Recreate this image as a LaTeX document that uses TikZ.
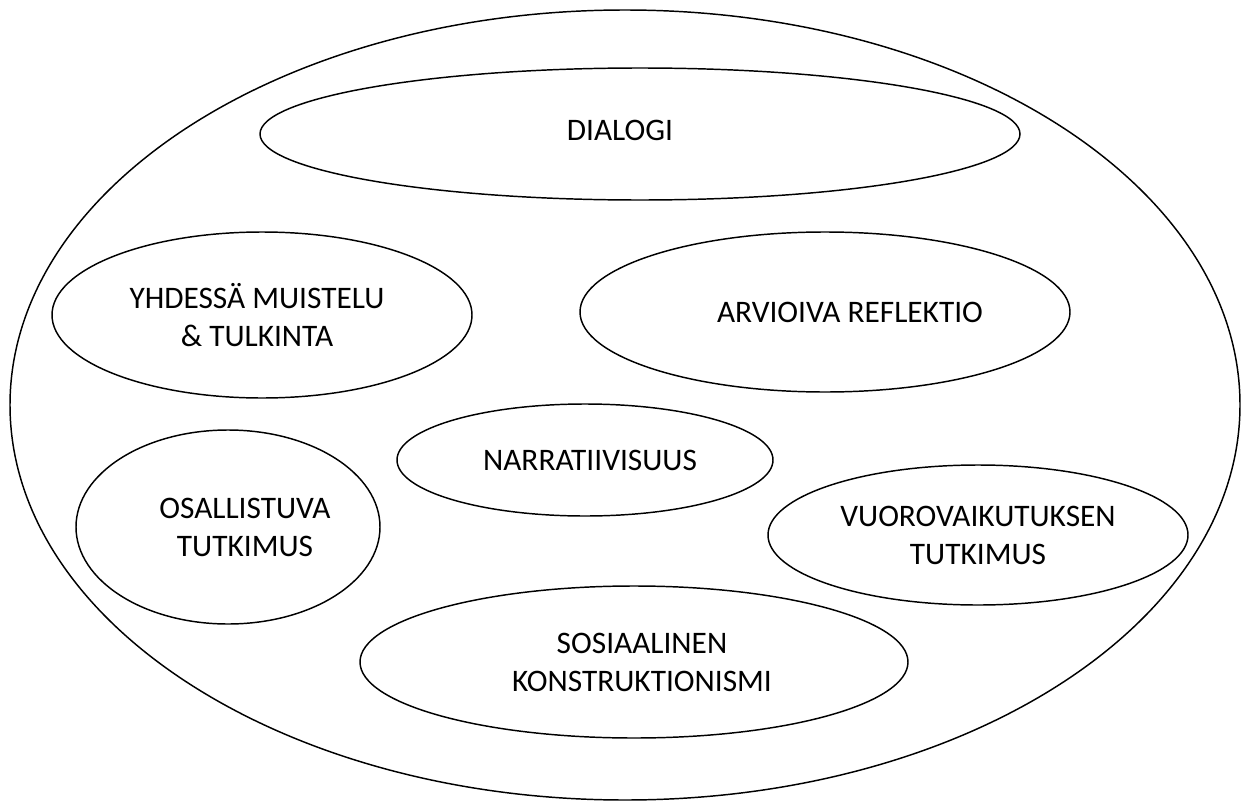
\documentclass[tikz,border=0pt]{standalone}
\usepackage{fontspec}
\setmainfont{Carlito}
\usepackage{tikz}
\usetikzlibrary{shapes.geometric}

\tikzset{
  oval/.style={draw, ellipse, line width=1.1pt, inner sep=0pt},
  txt/.style={inner sep=0pt, align=center, font=\fontsize{23.5}{28.5}\selectfont},
}

\begin{document}
\begin{tikzpicture}[x=0.75pt,y=0.75pt,yscale=-1,xscale=1]
\useasboundingbox (0,0) rectangle (1243,803);

%outer ellipse
\node [oval, minimum width=922.5pt, minimum height=592.5pt] (kaikki) at (625,405) {};

%inner ellipses
\node [oval, minimum width=570pt, minimum height=99pt] (dialogi) at (640,134) {};
\node [oval, minimum width=315pt, minimum height=124.5pt] (muistelu) at (262,315) {};
\node [oval, minimum width=367.5pt, minimum height=120pt] (reflektio) at (825,312) {};
\node [oval, minimum width=282pt, minimum height=84pt] (narratiivi) at (585,460) {};
\node [oval, minimum width=228pt, minimum height=145.5pt] (osallistuva) at (228,527) {};
\node [oval, minimum width=315pt, minimum height=105pt] (vuorovaikutus) at (978,535) {};
\node [oval, minimum width=411pt, minimum height=114pt] (sosiaalinen) at (634,662) {};

%texts
\node [txt, xshift=-15pt, yshift=3pt] (dialogi-t) at (dialogi) {DIALOGI};
\node [txt, xshift=-3.75pt] (muistelu-t) at (muistelu) {YHDESSÄ MUISTELU\\\& TULKINTA};
\node [txt, xshift=18.75pt] (reflektio-t) at (reflektio) {ARVIOIVA REFLEKTIO};
\node [txt, xshift=3.75pt] (narratiivi-t) at (narratiivi) {NARRATIIVISUUS};
\node [txt, xshift=12.75pt] (osallistuva-t) at (osallistuva) {OSALLISTUVA\\TUTKIMUS};
\node [txt] (vuorovaikutus-t) at (vuorovaikutus) {VUOROVAIKUTUKSEN\\TUTKIMUS};
\node [txt, xshift=6pt] (sosiaalinen-t) at (sosiaalinen) {SOSIAALINEN\\KONSTRUKTIONISMI};

\end{tikzpicture}
\end{document}
